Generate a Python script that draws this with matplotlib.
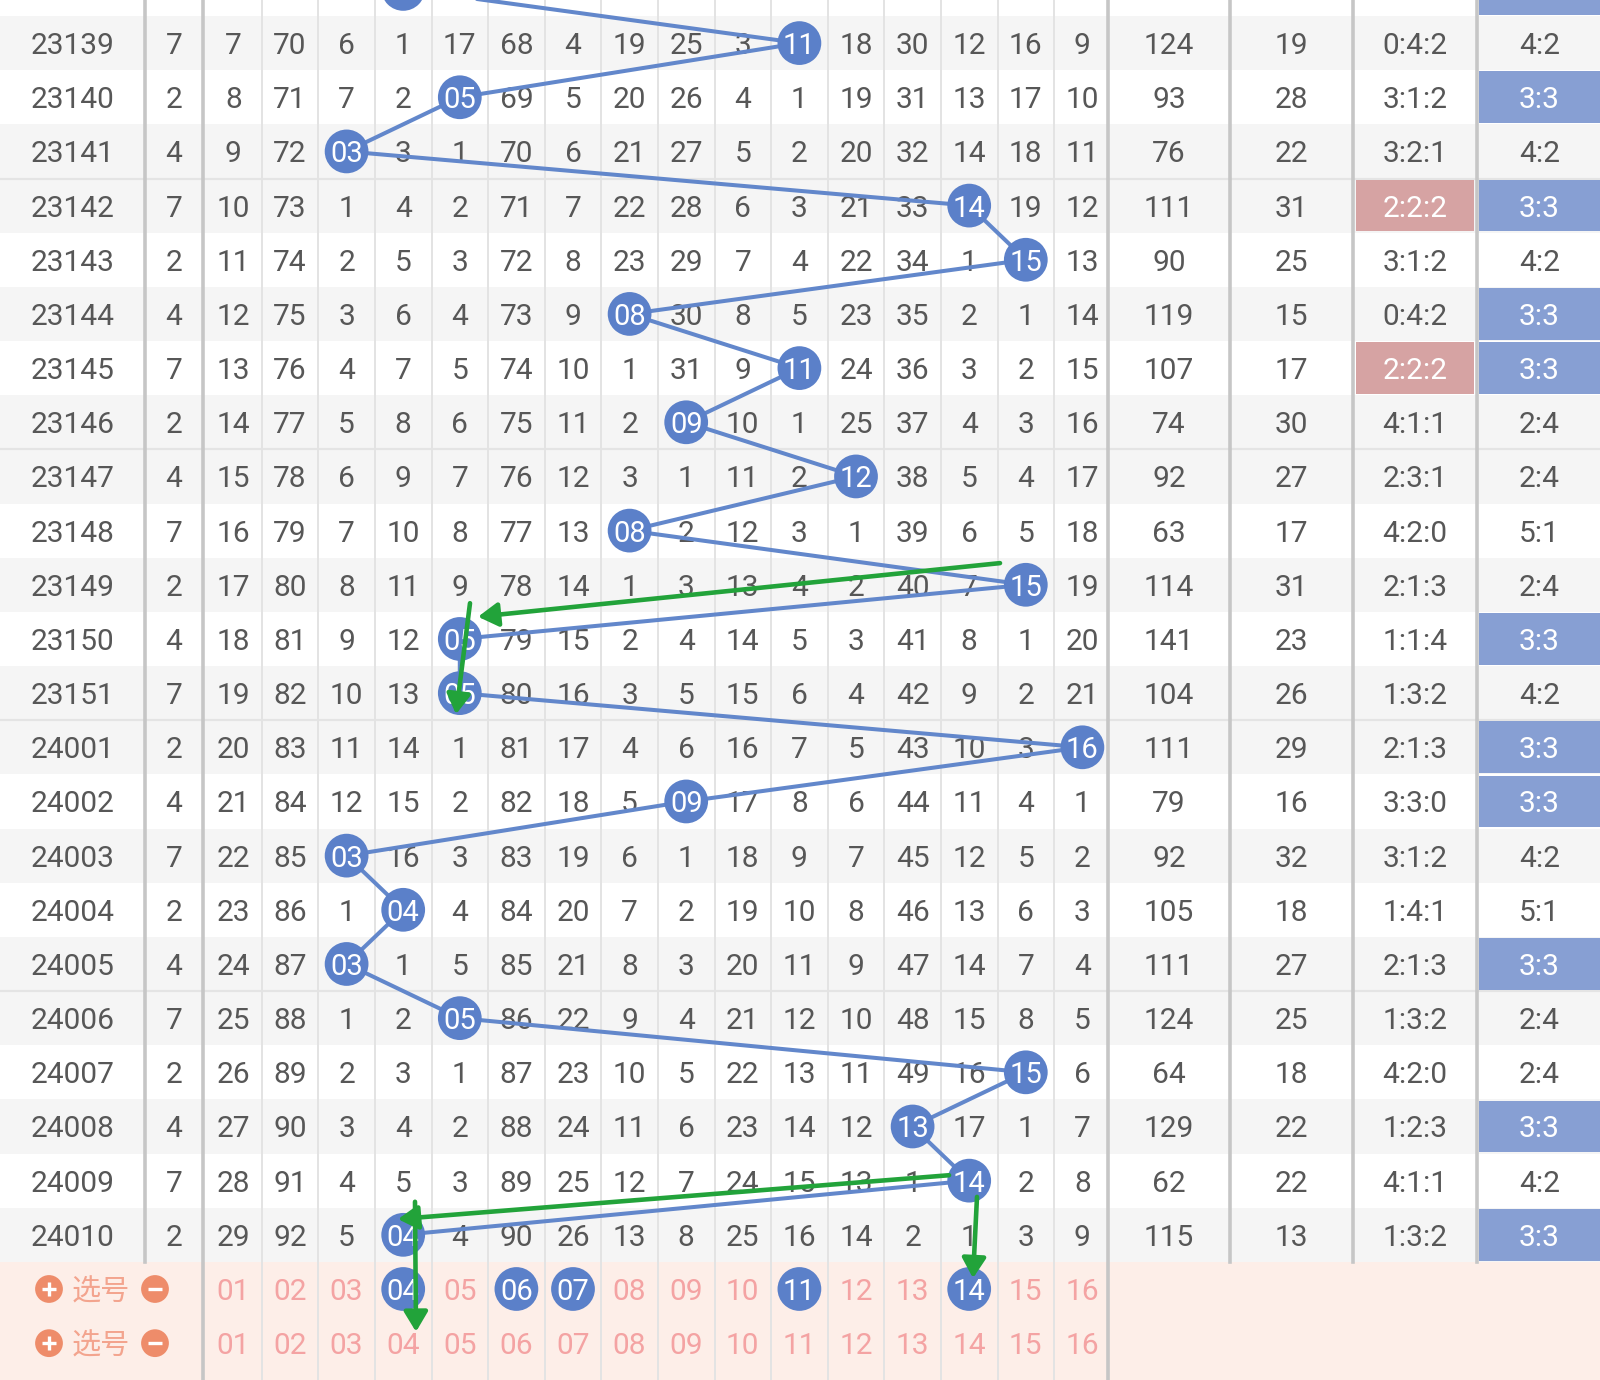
import matplotlib
matplotlib.use("Agg")
import matplotlib.pyplot as plt
from matplotlib.patches import Rectangle

plt.rcParams['font.family'] = ['Roboto', 'Noto Sans CJK SC', 'DejaVu Sans']

# ---------------- data ----------------
periods = ["23138", "23139", "23140", "23141", "23142", "23143", "23144", "23145",
           "23146", "23147", "23148", "23149", "23150", "23151", "24001", "24002",
           "24003", "24004", "24005", "24006", "24007", "24008", "24009", "24010"]
col1 = [4, 7, 2, 4, 7, 2, 4, 7, 2, 4, 7, 2, 4, 7, 2, 4, 7, 2, 4, 7, 2, 4, 7, 2]
balls = [4, 11, 5, 3, 14, 15, 8, 11, 9, 12, 8, 15, 5, 5, 16, 9, 3, 4, 3, 5, 15, 13, 14, 4]
omission = [
    [6, 69, 5, 0, 16, 67, 3, 18, 24, 2, 1, 17, 29, 11, 15, 8],
    [7, 70, 6, 1, 17, 68, 4, 19, 25, 3, 0, 18, 30, 12, 16, 9],
    [8, 71, 7, 2, 0, 69, 5, 20, 26, 4, 1, 19, 31, 13, 17, 10],
    [9, 72, 0, 3, 1, 70, 6, 21, 27, 5, 2, 20, 32, 14, 18, 11],
    [10, 73, 1, 4, 2, 71, 7, 22, 28, 6, 3, 21, 33, 0, 19, 12],
    [11, 74, 2, 5, 3, 72, 8, 23, 29, 7, 4, 22, 34, 1, 0, 13],
    [12, 75, 3, 6, 4, 73, 9, 0, 30, 8, 5, 23, 35, 2, 1, 14],
    [13, 76, 4, 7, 5, 74, 10, 1, 31, 9, 0, 24, 36, 3, 2, 15],
    [14, 77, 5, 8, 6, 75, 11, 2, 0, 10, 1, 25, 37, 4, 3, 16],
    [15, 78, 6, 9, 7, 76, 12, 3, 1, 11, 2, 0, 38, 5, 4, 17],
    [16, 79, 7, 10, 8, 77, 13, 0, 2, 12, 3, 1, 39, 6, 5, 18],
    [17, 80, 8, 11, 9, 78, 14, 1, 3, 13, 4, 2, 40, 7, 0, 19],
    [18, 81, 9, 12, 0, 79, 15, 2, 4, 14, 5, 3, 41, 8, 1, 20],
    [19, 82, 10, 13, 0, 80, 16, 3, 5, 15, 6, 4, 42, 9, 2, 21],
    [20, 83, 11, 14, 1, 81, 17, 4, 6, 16, 7, 5, 43, 10, 3, 0],
    [21, 84, 12, 15, 2, 82, 18, 5, 0, 17, 8, 6, 44, 11, 4, 1],
    [22, 85, 0, 16, 3, 83, 19, 6, 1, 18, 9, 7, 45, 12, 5, 2],
    [23, 86, 1, 0, 4, 84, 20, 7, 2, 19, 10, 8, 46, 13, 6, 3],
    [24, 87, 0, 1, 5, 85, 21, 8, 3, 20, 11, 9, 47, 14, 7, 4],
    [25, 88, 1, 2, 0, 86, 22, 9, 4, 21, 12, 10, 48, 15, 8, 5],
    [26, 89, 2, 3, 1, 87, 23, 10, 5, 22, 13, 11, 49, 16, 0, 6],
    [27, 90, 3, 4, 2, 88, 24, 11, 6, 23, 14, 12, 0, 17, 1, 7],
    [28, 91, 4, 5, 3, 89, 25, 12, 7, 24, 15, 13, 1, 0, 2, 8],
    [29, 92, 5, 0, 4, 90, 26, 13, 8, 25, 16, 14, 2, 1, 3, 9],
]
sums = [147, 124, 93, 76, 111, 90, 119, 107, 74, 92, 63, 114, 141, 104, 111, 79,
        92, 105, 111, 124, 64, 129, 62, 115]
spans = [30, 19, 28, 22, 31, 25, 15, 17, 30, 27, 17, 31, 23, 26, 29, 16,
         32, 18, 27, 25, 18, 22, 22, 13]
ratios = ["1:1:4", "0:4:2", "3:1:2", "3:2:1", "2:2:2", "3:1:2", "0:4:2", "2:2:2",
          "4:1:1", "2:3:1", "4:2:0", "2:1:3", "1:1:4", "1:3:2", "2:1:3", "3:3:0",
          "3:1:2", "1:4:1", "2:1:3", "1:3:2", "4:2:0", "1:2:3", "4:1:1", "1:3:2"]
odd_even = ["3:3", "4:2", "3:3", "4:2", "3:3", "4:2", "3:3", "3:3", "2:4", "2:4",
            "5:1", "2:4", "3:3", "4:2", "3:3", "3:3", "4:2", "5:1", "3:3", "2:4",
            "2:4", "3:3", "4:2", "3:3"]
numbers = ["01", "02", "03", "04", "05", "06", "07", "08",
           "09", "10", "11", "12", "13", "14", "15", "16"]
selected = [4, 6, 7, 11, 14]
pick_label = "选号"
# annotation arrows (start x, start row-y, end x, end row-y)
arrows = [
    (1000, 10.10, 478, 11.09),
    (470, 10.84, 456, 12.89),
    (949, 21.40, 398, 22.21),
    (415, 21.89, 416, 24.29),
    (977, 21.80, 973, 23.30),
]

# ---------------- layout / style ----------------
ROW_PX = 54.17
TOP_PX = 16.0
W, H = 1600, 1380
PERIOD_X = (0, 145)
C1_X = (145, 203)
NUM_LEFT = 205.1
NUM_W = 56.6
SUM_X = (1108, 1230)
SPAN_X = (1230, 1353)
RATIO_X = (1353, 1477)
OE_X = (1477, 1600)

TXT = '#575757'
GRAY_BG = '#f5f5f5'
PINK_BG = '#fdeee8'
PINK_TXT = '#f4a3a3'
BALL = '#5b80c9'
LINE_C = '#6287cb'
BLUE_CELL = '#879fd3'
RED_CELL = '#d6a3a3'
THICK = '#c6c6c6'
THIN = '#e3e3e3'
GREEN = '#22a33a'
ORANGE = '#ee8c6a'
FS = 21.5

fig = plt.figure(figsize=(W / 100, H / 100), dpi=100)
ax = fig.add_axes([0, 0, 1, 1])
ax.set_xlim(0, W)
ax.set_ylim((H - TOP_PX) / ROW_PX, -TOP_PX / ROW_PX)
ax.axis('off')


def num_center(n):
    return NUM_LEFT + (n - 0.5) * NUM_W


def mid(span):
    return (span[0] + span[1]) / 2


n_rows = len(periods)
rows = [k - 1 for k in range(n_rows)]  # first data row is partially cut at top
sel_rows = [n_rows - 1, n_rows]
y_bottom = (H - TOP_PX) / ROW_PX

# backgrounds
for r in rows:
    j = r + 2
    if (j % 5) % 2 == 0:
        ax.add_patch(Rectangle((0, r), W, 1, facecolor=GRAY_BG, edgecolor='none', zorder=0))
ax.add_patch(Rectangle((0, sel_rows[0]), W, y_bottom - sel_rows[0] + 1,
                       facecolor=PINK_BG, edgecolor='none', zorder=0))

# group separators
for r in rows:
    if (r + 2) % 5 == 0 and r > 0:
        ax.plot([0, W], [r, r], color='#e4e4e4', lw=1.6, zorder=1)

# highlighted cells
gap = 1.2 / ROW_PX
for k, r in enumerate(rows):
    if ratios[k] == "2:2:2":
        ax.add_patch(Rectangle((RATIO_X[0] + 3, r + gap), RATIO_X[1] - RATIO_X[0] - 6, 1 - 2 * gap,
                               facecolor=RED_CELL, edgecolor='none', zorder=1))
    if odd_even[k] == "3:3":
        ax.add_patch(Rectangle((OE_X[0] + 2, r + gap), OE_X[1] - OE_X[0], 1 - 2 * gap,
                               facecolor=BLUE_CELL, edgecolor='none', zorder=1))

# vertical grid lines
y_top = -TOP_PX / ROW_PX - 1
for n in range(1, 16):
    x = NUM_LEFT + n * NUM_W
    ax.plot([x, x], [y_top, y_bottom + 1], color=THIN, lw=1.4, zorder=1)
for x in (C1_X[1], SUM_X[0]):
    ax.plot([x, x], [y_top, y_bottom + 1], color=THICK, lw=2.6, zorder=1.5)
for x in (PERIOD_X[1], SPAN_X[0], RATIO_X[0], OE_X[0]):
    ax.plot([x, x], [y_top, sel_rows[0]], color=THICK, lw=2.6, zorder=1.5)

# table text
for k, r in enumerate(rows):
    yc = r + 0.5
    ax.text(mid(PERIOD_X), yc, periods[k], ha='center', va='center_baseline',
            fontsize=FS, color=TXT, zorder=2)
    ax.text(mid(C1_X), yc, str(col1[k]), ha='center', va='center_baseline',
            fontsize=FS, color=TXT, zorder=2)
    for n in range(1, 17):
        v = omission[k][n - 1]
        if n != balls[k]:
            ax.text(num_center(n), yc, str(v), ha='center', va='center_baseline',
                    fontsize=FS, color=TXT, zorder=2)
    ax.text(mid(SUM_X), yc, str(sums[k]), ha='center', va='center_baseline',
            fontsize=FS, color=TXT, zorder=2)
    ax.text(mid(SPAN_X), yc, str(spans[k]), ha='center', va='center_baseline',
            fontsize=FS, color=TXT, zorder=2)
    ax.text(mid(RATIO_X), yc, ratios[k], ha='center', va='center_baseline', fontsize=FS,
            color='white' if ratios[k] == "2:2:2" else TXT, zorder=2)
    ax.text(mid(OE_X) + 1, yc, odd_even[k], ha='center', va='center_baseline', fontsize=FS,
            color='white' if odd_even[k] == "3:3" else TXT, zorder=2)

# trend line and balls
bx = [num_center(b) for b in balls]
by = [r + 0.5 for r in rows]
ax.plot(bx, by, color=LINE_C, lw=2.9, zorder=3, solid_capstyle='round')
ax.scatter(bx, by, s=31.5 ** 2, color=BALL, edgecolors='none', zorder=4)
for b, y in zip(balls, by):
    ax.text(num_center(b), y, numbers[b - 1], ha='center', va='center_baseline',
            fontsize=FS - 0.5, color='white', zorder=5)

# selection rows
for i, r in enumerate(sel_rows):
    yc = r + 0.5
    ax.scatter([49], [yc], s=20 ** 2, color=ORANGE, edgecolors='none', zorder=4)
    ax.scatter([49], [yc], s=10 ** 2, marker='+', color='white', linewidths=2.4, zorder=5)
    ax.scatter([155], [yc], s=20 ** 2, color=ORANGE, edgecolors='none', zorder=4)
    ax.scatter([155], [yc], s=10 ** 2, marker='_', color='white', linewidths=2.4, zorder=5)
    ax.text(101, yc, pick_label, ha='center', va='center_baseline', fontsize=FS - 0.5,
            family=['Noto Sans CJK SC'], color='#f3a48e', zorder=5)
    for n in range(1, 17):
        if i == 0 and n in selected:
            ax.scatter([num_center(n)], [yc], s=31.5 ** 2, color=BALL, edgecolors='none', zorder=4)
            ax.text(num_center(n), yc, numbers[n - 1], ha='center', va='center_baseline',
                    fontsize=FS - 0.5, color='white', zorder=5)
        else:
            ax.text(num_center(n), yc, numbers[n - 1], ha='center', va='center_baseline',
                    fontsize=FS, color=PINK_TXT, zorder=2)

# annotation arrows
for x0, y0, x1, y1 in arrows:
    ax.annotate('', xy=(x1, y1), xytext=(x0, y0),
                arrowprops=dict(arrowstyle='-|>,head_length=0.6,head_width=0.36',
                                color=GREEN, lw=3.3, mutation_scale=20,
                                shrinkA=0, shrinkB=0),
                zorder=6)

fig.savefig('out.png', dpi=100)
